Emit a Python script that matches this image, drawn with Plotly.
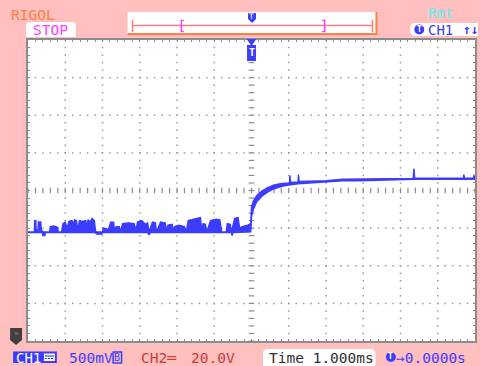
import numpy as np
import plotly.graph_objects as go

# ---------------- data (CH1 acquisition, peak-detect envelope) ----------------
# time in ms (1.000 ms/div, trigger at 0), volts (500 mV/div)
t_upper = [-6.0, -5.83, -5.82, -5.79, -5.78, -5.73, -5.72, -5.69, -5.66, -5.64, -5.59,
           -5.42, -5.40, -5.30, -5.20, -5.19, -5.10, -5.06, -5.00, -4.95, -4.90, -4.82,
           -4.78, -4.75, -4.70, -4.66, -4.62, -4.55, -4.45, -4.43, -4.39, -4.33, -4.28,
           -4.22, -4.19, -4.17, -4.00, -3.98, -3.88, -3.86, -3.78, -3.70, -3.68, -3.64,
           -3.55, -3.52, -3.46, -3.30, -3.15, -3.10, -3.06, -2.95, -2.85, -2.79, -2.75,
           -2.66, -2.58, -2.55, -2.44, -2.32, -2.28, -2.24, -2.13, -2.10, -2.06, -1.95,
           -1.80, -1.75, -1.70, -1.55, -1.42, -1.37, -1.34, -1.30, -1.24, -1.20, -1.10,
           -0.95, -0.85, -0.80, -0.68, -0.65, -0.57, -0.54, -0.45, -0.36, -0.32, -0.25,
           -0.10, -0.04, -0.02, 0.00, 0.05, 0.14, 0.27, 0.41, 0.59, 0.77, 0.95, 1.02,
           1.03, 1.05, 1.25, 1.26, 1.28, 1.56, 2.00, 2.45, 2.89, 3.50, 4.00, 4.34, 4.36,
           4.38, 5.69, 5.70, 5.72, 5.96, 5.97, 6.00]
v_upper = [-0.55, -0.55, -0.40, -0.40, -0.53, -0.52, -0.41, -0.44, -0.41, -0.53, -0.55,
           -0.55, -0.48, -0.47, -0.49, -0.55, -0.55, -0.44, -0.42, -0.50, -0.41, -0.40,
           -0.44, -0.39, -0.40, -0.52, -0.40, -0.41, -0.40, -0.50, -0.39, -0.42, -0.37,
           -0.40, -0.53, -0.55, -0.55, -0.50, -0.51, -0.55, -0.42, -0.42, -0.55, -0.48,
           -0.48, -0.55, -0.44, -0.43, -0.44, -0.53, -0.42, -0.40, -0.45, -0.43, -0.55,
           -0.42, -0.43, -0.55, -0.42, -0.43, -0.53, -0.46, -0.45, -0.53, -0.48, -0.46,
           -0.48, -0.55, -0.40, -0.38, -0.37, -0.36, -0.52, -0.44, -0.45, -0.55, -0.40,
           -0.38, -0.39, -0.55, -0.55, -0.44, -0.45, -0.55, -0.37, -0.36, -0.50, -0.48,
           -0.46, -0.44, -0.44, -0.22, -0.14, -0.07, -0.01, 0.03, 0.07, 0.09, 0.10, 0.10,
           0.20, 0.11, 0.11, 0.21, 0.12, 0.12, 0.13, 0.15, 0.15, 0.16, 0.16, 0.16, 0.29,
           0.165, 0.165, 0.21, 0.165, 0.165, 0.21, 0.165]
t_lower = [-6.0, -5.62, -5.60, -5.55, -5.53, -4.20, -4.15, -4.02, -4.00, -2.78, -2.75,
           -2.72, -0.54, -0.52, -0.50, -0.03, -0.02, 0.00, 0.05, 0.14, 0.27, 0.41, 0.59,
           0.77, 0.95, 1.25, 1.56, 2.00, 2.45, 2.89, 3.50, 4.00, 4.36, 6.00]
v_lower = [-0.56, -0.56, -0.60, -0.60, -0.56, -0.56, -0.58, -0.58, -0.56, -0.56, -0.59,
           -0.56, -0.56, -0.60, -0.56, -0.56, -0.55, -0.35, -0.25, -0.15, -0.08, -0.03,
           0.02, 0.05, 0.07, 0.09, 0.10, 0.11, 0.13, 0.13, 0.14, 0.145, 0.15, 0.15]

# ---------------- scope settings / labels ----------------
TIME_DIV = 1.0       # ms/div
VOLT_DIV = 0.5       # V/div
N_HDIV, N_VDIV = 12, 8
top_labels = {"brand": "RIGOL", "state": "STOP", "remote": "Rmt", "trig_src": "CH1"}
bottom_labels = {"ch1": "CH1", "ch1_scale": "500mV", "ch2": "CH2═", "ch2_scale": "20.0V",
                 "time": "Time 1.000ms", "delay": "→0.0000s"}

# ---------------- geometry helpers ----------------
W, H = 480, 366
ML, MR, MT, MB = 28, 3, 40, 25
PW, PH = W - ML - MR, H - MT - MB


def px(x):
    return (x - ML) / PW


def py(y):
    return (H - MB - y) / PH


def path(points, close=True):
    s = "M " + " L ".join(f"{px(x):.5f},{py(y):.5f}" for x, y in points)
    return s + (" Z" if close else "")


BLUE = "#3C3CFF"
GRID = "#8C8C8C"
DOT = "#9A9A9A"
PINK = "#FFBFBF"
ORANGE = "#FF8040"
MAGENTA = "#FF3CFF"
MONO = "DejaVu Sans Mono"

fig = go.Figure()

# grid dots
xmax, ymax = N_HDIV / 2 * TIME_DIV, N_VDIV / 2 * VOLT_DIV
gx, gy = [], []
for k in range(-5, 6):
    if k == 0:
        continue
    for v in np.arange(-ymax, ymax + 1e-9, VOLT_DIV / 5):
        gx.append(k * TIME_DIV)
        gy.append(v)
for j in [-3, -2, -1, 1, 2, 3]:
    for t in np.arange(-xmax, xmax + 1e-9, TIME_DIV / 5):
        gx.append(t)
        gy.append(j * VOLT_DIV)
fig.add_trace(go.Scatter(x=gx, y=gy, mode="markers", hoverinfo="skip",
                         marker=dict(symbol="square", size=1.5, color=DOT)))
# center cross with dashes
ct = np.arange(-xmax, xmax + 1e-9, TIME_DIV / 5)
fig.add_trace(go.Scatter(x=ct, y=np.zeros_like(ct), mode="markers", hoverinfo="skip",
                         marker=dict(symbol="line-ns", size=4, line=dict(width=1.2, color=GRID))))
cv = np.arange(-ymax, ymax + 1e-9, VOLT_DIV / 5)
fig.add_trace(go.Scatter(x=np.zeros_like(cv), y=cv, mode="markers", hoverinfo="skip",
                         marker=dict(symbol="line-ew", size=4, line=dict(width=1.2, color=GRID))))

# waveform envelope
fig.add_trace(go.Scatter(x=t_lower, y=v_lower, mode="lines", line=dict(color=BLUE, width=1.4),
                         hoverinfo="skip"))
fig.add_trace(go.Scatter(x=t_upper, y=v_upper, mode="lines", line=dict(color=BLUE, width=1.4),
                         fill="tonexty", fillcolor=BLUE, hoverinfo="skip"))

shapes = []
ann = []

def text(x, y, s, color, size=14.5, xanchor="left", **kw):
    d = dict(xref="paper", yref="paper", x=px(x), y=py(y), text=s, showarrow=False,
             xanchor=xanchor, yanchor="middle",
             font=dict(family=MONO, size=size, color=color))
    d.update(kw)
    ann.append(d)

# --- top header ---
text(9, 15, top_labels["brand"], ORANGE, size=14.5)
shapes.append(dict(type="path", xref="paper", yref="paper", line_width=0, fillcolor="white",
                   path=path([(26, 37), (26, 24), (28, 22), (74, 22), (76, 24), (76, 37)])))
text(51, 30, top_labels["state"], MAGENTA, size=14.5, xanchor="center")

shapes.append(dict(type="rect", xref="paper", yref="paper", x0=px(128), x1=px(378),
                   y0=py(34), y1=py(12), fillcolor="white", line_width=0))
shapes.append(dict(type="path", xref="paper", yref="paper", line=dict(color=ORANGE, width=2),
                   path=path([(128, 34), (378, 34), (378, 12)], close=False)))
shapes.append(dict(type="line", xref="paper", yref="paper", x0=px(133), x1=px(374),
                   y0=py(25.5), y1=py(25.5), line=dict(color="#FF7F7F", width=1.5)))
for xe in (133, 374):
    shapes.append(dict(type="line", xref="paper", yref="paper", x0=px(xe), x1=px(xe),
                       y0=py(20), y1=py(32), line=dict(color="#FF7F7F", width=1.5)))
shapes.append(dict(type="path", xref="paper", yref="paper", line=dict(color=MAGENTA, width=1.5),
                   path=path([(184.5, 20.5), (182, 20.5), (182, 31.5), (184.5, 31.5)], close=False)))
shapes.append(dict(type="path", xref="paper", yref="paper", line=dict(color=MAGENTA, width=1.5),
                   path=path([(323.5, 20.5), (326, 20.5), (326, 31.5), (323.5, 31.5)], close=False)))
# small trigger-position marker in header
shapes.append(dict(type="path", xref="paper", yref="paper", line_width=0, fillcolor=BLUE,
                   path=path([(249, 13), (257, 13), (257, 19), (253, 23), (249, 19)])))
text(253, 16.5, "T", "white", size=7.5, xanchor="center")

text(428, 13, top_labels["remote"], "#5CF0F0", size=14)
shapes.append(dict(type="path", xref="paper", yref="paper", line_width=0, fillcolor="white",
                   path=path([(480, 23), (415, 23), (412, 26), (412, 33), (415, 36), (480, 36)])))
shapes.append(dict(type="circle", xref="paper", yref="paper", x0=px(416), x1=px(426),
                   y0=py(34.5), y1=py(24.5), fillcolor=BLUE, line_width=0))
text(421, 29.5, "<b>T</b>", "white", size=8, xanchor="center")
text(428, 30, top_labels["trig_src"], BLUE, size=14)
text(463, 29.5, "<b>↑↓</b>", BLUE, size=13)

# trigger marker at the top of the graticule
shapes.append(dict(type="path", xref="x", yref="paper", line_width=0, fillcolor=BLUE,
                   path="M -0.13,%f L 0.13,%f L 0,%f Z" % (py(39), py(39), py(46))))
shapes.append(dict(type="rect", xref="x", yref="paper", x0=-0.12, x1=0.12, y0=py(61), y1=py(45),
                   fillcolor=BLUE, line_width=0))
ann.append(dict(xref="x", yref="paper", x=0, y=py(53), text="<b>T</b>", showarrow=False,
                font=dict(family=MONO, size=10, color="white"), xanchor="center", yanchor="middle"))

# ground reference marker (left)
shapes.append(dict(type="path", xref="paper", yref="paper", line_width=0, fillcolor="#404040",
                   path=path([(10, 328), (22, 328), (22, 340), (16, 345), (10, 340)])))
text(16, 335.5, "ᴴ", "#E06060", size=8, xanchor="center")

# --- bottom status bar ---
shapes.append(dict(type="rect", xref="paper", yref="paper", x0=px(13), x1=px(57), y0=py(363),
                   y1=py(351.5), fillcolor=BLUE, line_width=0))
text(14, 357.5, bottom_labels["ch1"], "white", size=14)
shapes.append(dict(type="rect", xref="paper", yref="paper", x0=px(44), x1=px(55), y0=py(361),
                   y1=py(353.5), fillcolor="white", line_width=0))
shapes.append(dict(type="line", xref="paper", yref="paper", x0=px(45), x1=px(54), y0=py(356),
                   y1=py(356), line=dict(color=BLUE, width=1.2)))
shapes.append(dict(type="line", xref="paper", yref="paper", x0=px(45), x1=px(54), y0=py(358.5),
                   y1=py(358.5), line=dict(color=BLUE, width=1.2, dash="2px,1px")))
text(67, 357.5, bottom_labels["ch1_scale"], BLUE, size=14.5)
shapes.append(dict(type="rect", xref="paper", yref="paper", x0=px(113.5), x1=px(122),
                   y0=py(363), y1=py(352), fillcolor=PINK, line=dict(color=BLUE, width=1.5)))
text(117.8, 357.5, "B", BLUE, size=10, xanchor="center")
text(139, 357.5, bottom_labels["ch2"], "#C83C3C", size=14.5)
text(238, 357.5, bottom_labels["ch2_scale"], "#C83C3C", size=14.5, xanchor="right")

shapes.append(dict(type="path", xref="paper", yref="paper", line_width=0, fillcolor="white",
                   path=path([(264, 366), (264, 352), (267, 349), (374, 349), (377, 352), (377, 366)])))
text(268, 357.5, bottom_labels["time"], "#303030", size=14.5)
shapes.append(dict(type="circle", xref="paper", yref="paper", x0=px(387.5), x1=px(397.5),
                   y0=py(362), y1=py(352), fillcolor=BLUE, line_width=0))
text(392.5, 357, "<b>T</b>", "white", size=8, xanchor="center")
text(396, 357.5, bottom_labels["delay"], BLUE, size=14.5)

fig.update_layout(
    width=W, height=H, margin=dict(l=ML, r=MR, t=MT, b=MB, pad=0),
    paper_bgcolor=PINK, plot_bgcolor="white", showlegend=False,
    shapes=shapes, annotations=ann,
    xaxis=dict(range=[-xmax, xmax], showgrid=False, zeroline=False, showticklabels=False,
               showline=True, linecolor=GRID, linewidth=2, mirror="ticks", ticks="inside",
               tickcolor=GRID, ticklen=2, tickwidth=1, dtick=TIME_DIV / 5, tick0=0,
               fixedrange=True),
    yaxis=dict(range=[-ymax, ymax], showgrid=False, zeroline=False, showticklabels=False,
               showline=True, linecolor=GRID, linewidth=2, mirror="ticks", ticks="inside",
               tickcolor=GRID, ticklen=2, tickwidth=1, dtick=VOLT_DIV / 5, tick0=0,
               fixedrange=True),
)

fig.write_html("out.html", config={"displayModeBar": False})
